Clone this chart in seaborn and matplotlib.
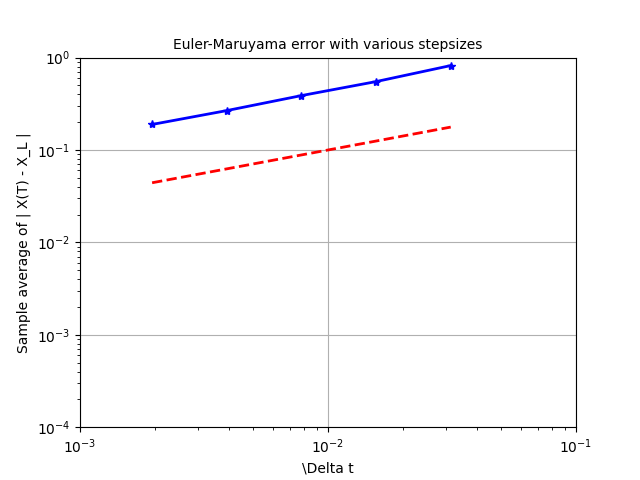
import matplotlib
matplotlib.use("Agg")
import matplotlib.pyplot as plt
import seaborn as sns
import pandas as pd

dt = [2**-9, 2**-8, 2**-7, 2**-6, 2**-5]
err = [0.189, 0.267, 0.388, 0.55, 0.82]
ref = [0.0442, 0.0625, 0.0884, 0.125, 0.177]

df = pd.DataFrame({"dt": dt, "err": err, "ref": ref})

fig, ax = plt.subplots(figsize=(6.4, 4.8), dpi=100)
sns.lineplot(data=df, x="dt", y="err", ax=ax, color="blue", linewidth=2,
             marker="*", markersize=6, markeredgecolor="blue",
             markeredgewidth=1)
sns.lineplot(data=df, x="dt", y="ref", ax=ax, color="red", linewidth=2,
             linestyle="--")
ax.set_xscale("log")
ax.set_yscale("log")
ax.set_xlim(1e-3, 1e-1)
ax.set_ylim(1e-4, 1)
ax.grid(True, which="major")
ax.set_xlabel("\\Delta t")
ax.set_ylabel("Sample average of | X(T) - X_L |")
ax.set_title("Euler-Maruyama error with various stepsizes", fontsize=10)
fig.savefig("out.png", dpi=100)
